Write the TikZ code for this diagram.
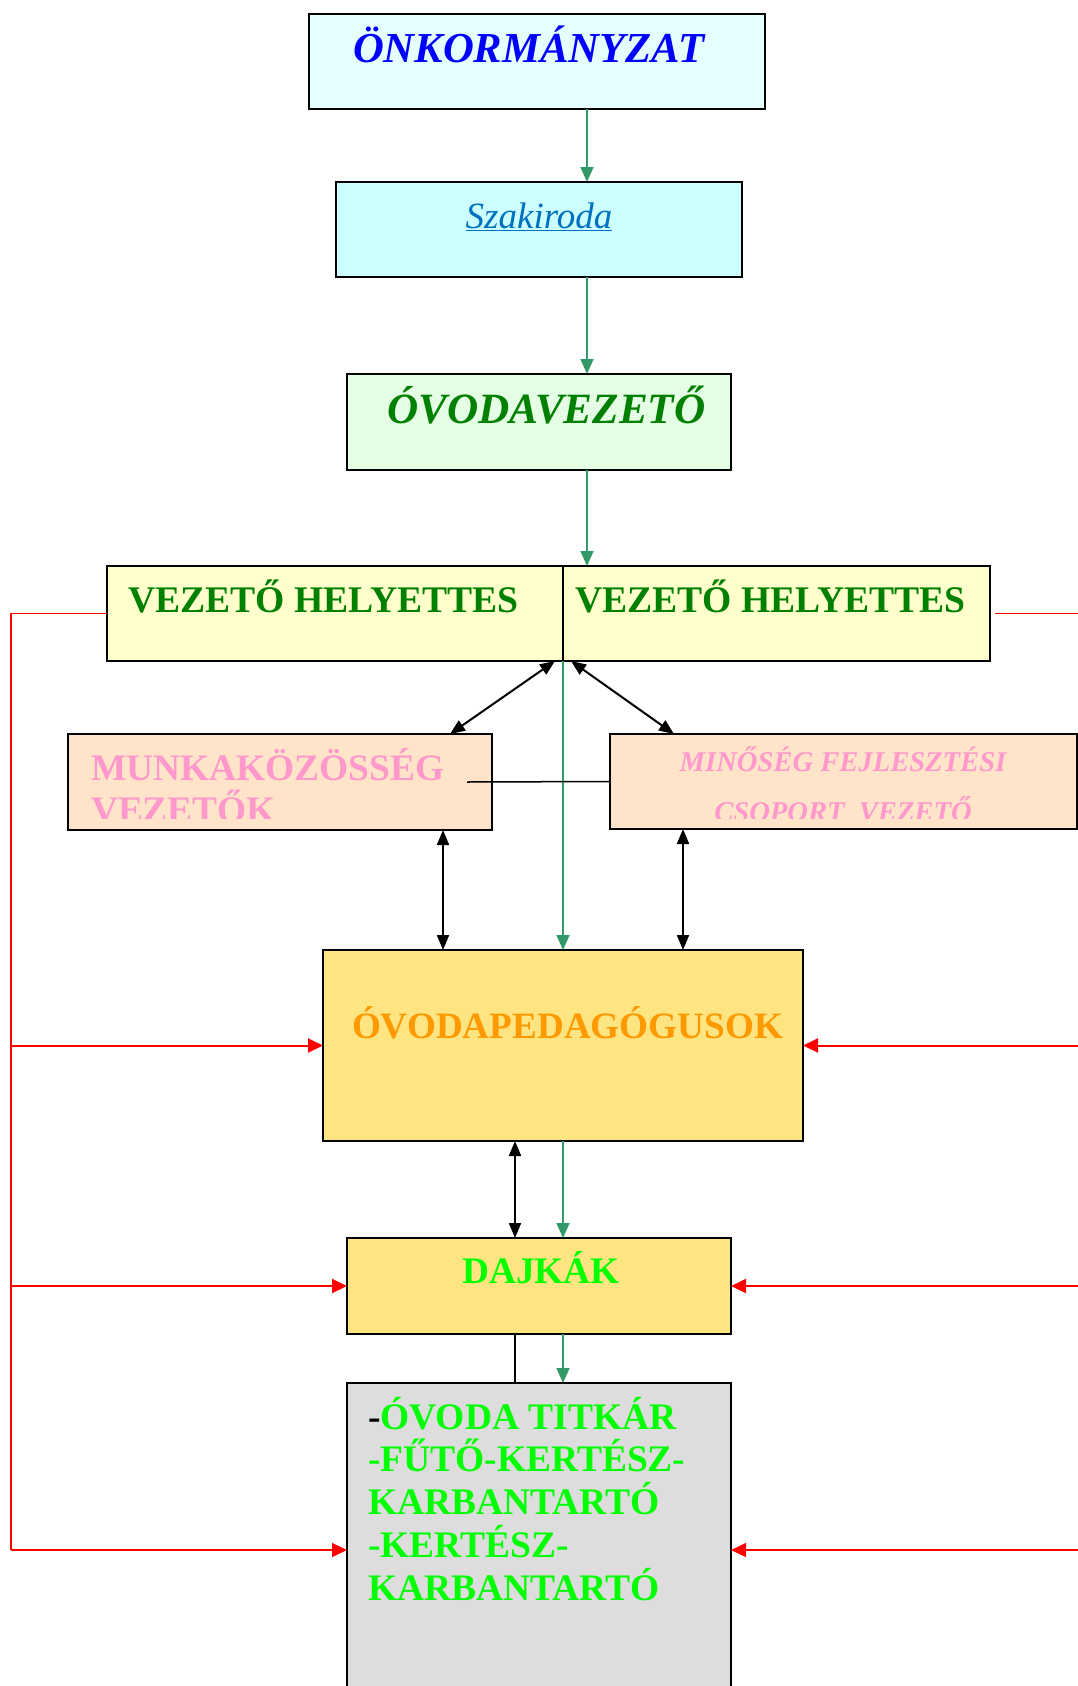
\documentclass[tikz,border=0pt]{standalone}
\usepackage{fontspec}
\setmainfont{Liberation Serif}
\usetikzlibrary{arrows.meta, positioning}

\definecolor{halvanycian}{HTML}{E5FFFF}
\definecolor{cian}{HTML}{CCFFFF}
\definecolor{halvanyzold}{HTML}{E5FFE5}
\definecolor{halvanysarga}{HTML}{FFFFCC}
\definecolor{barack}{HTML}{FFE4C9}
\definecolor{sarga}{HTML}{FFE482}
\definecolor{szurke}{HTML}{DDDDDD}
\definecolor{kek}{HTML}{0000FF}
\definecolor{linkkek}{HTML}{0070C0}
\definecolor{zold}{HTML}{008000}
\definecolor{rozsa}{HTML}{FF99CC}
\definecolor{narancs}{HTML}{FF9900}
\definecolor{elenk}{HTML}{00FF00}
\definecolor{tengerzold}{HTML}{339966}

\newcommand\nagybetu{\fontsize{37.4}{42}\selectfont\bfseries}

\begin{document}
\begin{tikzpicture}[x=1pt, y=-1pt,
    every node/.style={inner sep=0pt, outer sep=0pt},
    box/.style={draw=black, line width=1.6pt, anchor=north west},
    txt/.style={anchor=base west},
    zarrow/.style={draw=tengerzold, line width=1.6pt, -{Triangle[length=15pt, width=13pt]}},
    farrow/.style={draw=black, line width=2pt, {Triangle[length=15pt, width=12pt]}-{Triangle[length=15pt, width=12pt]}},
    vonal/.style={draw=black, line width=1.5pt},
    piros/.style={draw=red, line width=1.3pt},
    parrow/.style={draw=red, line width=1.3pt, -{Triangle[length=15pt, width=14pt]}}]
    \useasboundingbox (0,0) rectangle (1078,1686);
    % boxes
    \node[box, fill=halvanycian, minimum width=456pt, minimum height=95pt] (onk) at (309,14) {};
    \node[box, fill=cian, minimum width=406pt, minimum height=95pt] (szak) at (336,182) {};
    \node[box, fill=halvanyzold, minimum width=384pt, minimum height=96pt] (ovv) at (347,374) {};
    \node[box, fill=halvanysarga, minimum width=456pt, minimum height=95pt] (vhl) at (107,566) {};
    \node[box, fill=halvanysarga, minimum width=427pt, minimum height=95pt] (vhr) at (563,566) {};
    \node[box, fill=barack, minimum width=424pt, minimum height=96pt] (munk) at (68,734) {};
    \node[box, fill=barack, minimum width=467pt, minimum height=95pt] (minc) at (610,734) {};
    \node[box, fill=sarga, minimum width=480pt, minimum height=191pt] (ovp) at (323,950) {};
    \node[box, fill=sarga, minimum width=384pt, minimum height=96pt] (daj) at (347,1238) {};
    \node[box, fill=szurke, minimum width=384pt, minimum height=334pt] (egyeb) at (347,1383) {};
    % texts
    \node[txt, text=kek, font=\fontsize{42.7}{50}\selectfont\bfseries\itshape] (onkt) at (353,63) {ÖNKORMÁNYZAT};
    \node[anchor=base, text=linkkek, font=\fontsize{37}{44}\selectfont\itshape] (szakt) at (539,228) {\underline{Szakiroda}};
    \node[txt, text=zold, font=\fontsize{43.2}{50}\selectfont\bfseries\itshape] (ovvt) at (387,423) {ÓVODAVEZETŐ};
    \node[txt, text=zold, font=\fontsize{37.6}{42}\selectfont\bfseries] (vhlt) at (128,612) {VEZETŐ HELYETTES};
    \node[txt, text=zold, font=\fontsize{37.6}{42}\selectfont\bfseries] (vhrt) at (575,612) {VEZETŐ HELYETTES};
    \begin{scope}
        \clip (68,734) rectangle (492,818);
        \node[txt, text=rozsa, font=\nagybetu, align=left] (munkt) at (91,822) {MUNKAKÖZÖSSÉG\\VEZETŐK};
    \end{scope}
    \begin{scope}
        \clip (610,734) rectangle (1077,818);
        \node[anchor=base, text=rozsa, font=\fontsize{28.6}{50}\selectfont\bfseries\itshape, align=center] (mint) at (843,821) {MINŐSÉG FEJLESZTÉSI\\CSOPORT\ \ VEZETŐ};
    \end{scope}
    \node[txt, text=narancs, font=\fontsize{37.2}{42}\selectfont\bfseries] (ovpt) at (352,1038) {ÓVODAPEDAGÓGUSOK};
    \node[txt, text=elenk, font=\nagybetu] (dajt) at (462,1283) {DAJKÁK};
    \node[txt, text=elenk, font=\fontsize{37.5}{42.7}\selectfont\bfseries, align=left] (egyebt) at (368,1600) {\textcolor{black}{-}ÓVODA TITKÁR\\-FŰTŐ-KERTÉSZ-\\KARBANTARTÓ\\-KERTÉSZ-\\KARBANTARTÓ};
    % helper coordinates
    \coordinate (gx) at (587,0);
    \coordinate (gm) at (563,0);
    \coordinate (v1) at (443,0);
    \coordinate (v2) at (683,0);
    \coordinate (v3) at (515,0);
    \coordinate (mv) at (467,782);
    \coordinate (bal) at (11,0);
    \coordinate (jobb) at (1078,0);
    \coordinate[right=5pt of vhr.east] (vhrk);
    % green chain
    \draw[zarrow] (gx |- onk.south) -- (gx |- szak.north);
    \draw[zarrow] (gx |- szak.south) -- (gx |- ovv.north);
    \draw[zarrow] (gx |- ovv.south) -- (gx |- vhr.north);
    \draw[zarrow] (gm |- vhr.south) -- (gm |- ovp.north);
    \draw[zarrow] (gm |- ovp.south) -- (gm |- daj.north);
    \draw[zarrow] (gm |- daj.south) -- (gm |- egyeb.north);
    % black links
    \draw[farrow] ([xshift=-8pt]vhl.south east) -- ([xshift=-42pt]munk.north east);
    \draw[farrow] ([xshift=8pt]vhr.south west) -- ([xshift=64pt]minc.north west);
    \draw[farrow] (v1 |- munk.south) -- (v1 |- ovp.north);
    \draw[farrow] (v2 |- minc.south) -- (v2 |- ovp.north);
    \draw[farrow] (v3 |- ovp.south) -- (v3 |- daj.north);
    \draw[vonal] (v3 |- daj.south) -- (v3 |- egyeb.north);
    \draw[vonal] (mv) -- (minc.west);
    % red lines
    \draw[piros] (vhl.west) -| (bal |- egyeb.west);
    \draw[parrow, line width=2pt] (bal |- ovp.west) -- (ovp.west);
    \draw[parrow, line width=2pt] (bal |- daj.west) -- (daj.west);
    \draw[parrow] (bal |- egyeb.west) -- (egyeb.west);
    \draw[piros] (vhrk) -- (jobb |- vhr.east);
    \draw[parrow, line width=2pt] (jobb |- ovp.east) -- (ovp.east);
    \draw[parrow, line width=2pt] (jobb |- daj.east) -- (daj.east);
    \draw[parrow] (jobb |- egyeb.east) -- (egyeb.east);
\end{tikzpicture}
\end{document}
